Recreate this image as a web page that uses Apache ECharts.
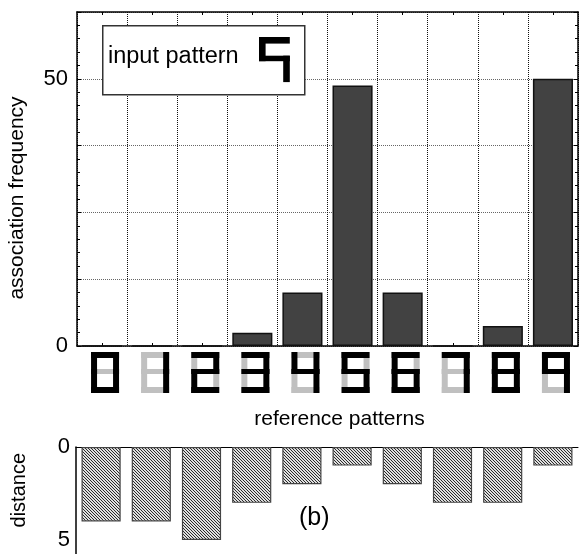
<!DOCTYPE html>
<html>
<head>
<meta charset="utf-8">
<script src="https://cdn.jsdelivr.net/npm/echarts@6/dist/echarts.min.js"></script>
<style>
  html, body { margin: 0; padding: 0; background: #fff; }
  #chart { width: 584px; height: 554px; }
</style>
</head>
<body>
<div id="chart"></div>
<script>
// data
const categories = ['0', '1', '2', '3', '4', '5', '6', '7', '8', '9'];
const frequency = [0, 0, 0, 2.5, 10, 48.75, 10, 0, 3.75, 50];
const distance = [4, 4, 5, 3, 2, 1, 2, 3, 3, 1];
const freqLabels = [0, 50];
const distLabels = [0, 5];

// segment glyphs for the reference patterns (T top, a up-left, b up-right, M middle, c low-left, d low-right, B bottom)
const glyphBlack = ['TabcdB', 'bd', 'TbMcB', 'TbMdB', 'abMd', 'TaMdB', 'TaMcdB', 'Tbd', 'TabMcdB', 'TabMd'];
const glyphGray = ['M', 'TaMcB', 'ad', 'ac', 'TcB', 'bc', 'b', 'aMcB', '', 'cB'];
const inputGlyph = 'TaMd';

const FONT = '"Liberation Sans", Arial, Helvetica, sans-serif';

const SEG = {
  T: [0, 0, 28, 6], a: [0, 0, 6, 22], b: [22, 0, 6, 22], M: [0, 17, 28, 5],
  c: [0, 17, 6, 24], d: [22, 17, 6, 24], B: [0, 35, 28, 6]
};
const segRects = (codes, x0, y0, s, fill, z) => codes.split('').map((k) => {
  const r = SEG[k];
  return {
    type: 'rect', z: z || 0,
    shape: { x: x0 + r[0] * s, y: y0 + r[1] * s, width: r[2] * s, height: r[3] * s },
    style: { fill: fill }
  };
});

// hatch for the distance bars
const hatch = document.createElement('canvas');
hatch.width = 3;
hatch.height = 3;
const hctx = hatch.getContext('2d');
hctx.fillStyle = '#e0e0e0';
hctx.fillRect(0, 0, 3, 3);
hctx.fillStyle = '#2a2a2a';
for (let i = 0; i < 3; i++) hctx.fillRect(i, i, 1, 1);

const chart = echarts.init(document.getElementById('chart'), null, { renderer: 'canvas' });

const topY = {
  gridIndex: 0, type: 'value', min: 0, max: 62.5, interval: 12.5,
  axisLine: { show: true, lineStyle: { color: '#000', width: 1.5 } },
  axisTick: { show: true, inside: true, length: 4, lineStyle: { color: '#000' } },
  minorTick: { show: true, splitNumber: 5, length: 3, lineStyle: { color: '#000' } },
  splitLine: { show: true, lineStyle: { type: 'dotted', color: '#666', width: 1 } }
};
const topX = {
  gridIndex: 0, type: 'category', data: categories, boundaryGap: true,
  axisLine: { show: true, onZero: false, lineStyle: { color: '#000', width: 1.5 } },
  axisTick: { show: true, inside: true, alignWithLabel: true, length: 3, lineStyle: { color: '#000' } },
  axisLabel: { show: false },
  splitLine: { show: true, lineStyle: { type: 'dotted', color: '#111', width: 1 } }
};

chart.setOption({
  animation: false,
  grid: [
    { left: 77, right: 6, top: 12, height: 334, outerBoundsMode: 'none' },
    { left: 76, right: 6, top: 447, height: 107, outerBoundsMode: 'none' }
  ],
  xAxis: [
    Object.assign({}, topX, {
      position: 'bottom',
      name: 'reference patterns', nameLocation: 'middle', nameGap: 63,
      nameTextStyle: { fontFamily: FONT, fontSize: 21, color: '#000', padding: [0, 0, 0, 24] }
    }),
    Object.assign({}, topX, { position: 'top', splitLine: { show: false } }),
    {
      gridIndex: 1, type: 'category', data: categories, position: 'top',
      axisLine: { show: true, onZero: false, lineStyle: { color: '#000', width: 1 } },
      axisTick: { show: false }, axisLabel: { show: false }, splitLine: { show: false }
    }
  ],
  yAxis: [
    Object.assign({}, topY, {
      position: 'left',
      name: 'association frequency', nameLocation: 'middle', nameGap: 49,
      nameTextStyle: { fontFamily: FONT, fontSize: 21, color: '#000', padding: [0, 38, 0, 0] },
      axisLabel: {
        fontFamily: FONT, fontSize: 22, color: '#000', margin: 9,
        formatter: (v) => (freqLabels.includes(v) ? String(v) : '')
      }
    }),
    Object.assign({}, topY, { position: 'right', axisLabel: { show: false }, splitLine: { show: false } }),
    {
      gridIndex: 1, type: 'value', inverse: true, min: 0, max: 5.75, interval: 5,
      axisLine: { show: true, lineStyle: { color: '#000', width: 1.5 } },
      axisTick: { show: false }, splitLine: { show: false },
      axisLabel: {
        fontFamily: FONT, fontSize: 22, color: '#000', margin: 6,
        formatter: (v) => (distLabels.includes(v) ? String(v) : '')
      }
    }
  ],
  series: [
    {
      type: 'bar', xAxisIndex: 0, yAxisIndex: 0, data: frequency, barWidth: '80%',
      itemStyle: { color: '#424242', borderColor: '#111', borderWidth: 1.5 }
    },
    {
      type: 'custom', xAxisIndex: 0, yAxisIndex: 0, clip: false,
      data: categories.map((c, i) => [i]),
      encode: { x: 0 },
      renderItem: (params, api) => {
        const i = api.value(0);
        const p = api.coord([i, 0]);
        const x0 = p[0] - 11;
        const y0 = p[1] + 6;
        return {
          type: 'group',
          children: segRects(glyphGray[i], x0, y0, 1, '#c0c0c0')
            .concat(segRects(glyphBlack[i], x0, y0, 1, '#000'))
        };
      }
    },
    {
      type: 'bar', xAxisIndex: 2, yAxisIndex: 2, data: distance, barWidth: '78%',
      itemStyle: { color: { image: hatch, repeat: 'repeat' }, borderColor: '#444', borderWidth: 1.2 }
    }
  ],
  graphic: [
    {
      type: 'rect', left: 102, top: 25, z: 10,
      shape: { width: 202, height: 69 },
      style: { fill: '#fff', stroke: '#333', lineWidth: 1.5 }
    },
    {
      type: 'text', left: 108, top: 45, z: 11,
      style: { text: 'input pattern', fontFamily: FONT, fontSize: 23.5, fill: '#000' }
    }
  ].concat(segRects(inputGlyph, 259, 37, 1.1, '#000', 12)).concat([
    {
      type: 'text', left: 9, top: 453, rotation: Math.PI / 2, z: 5,
      style: { text: 'distance', fontFamily: FONT, fontSize: 20, fill: '#000' }
    },
    {
      type: 'text', left: 299, top: 506, z: 5,
      style: { text: '(b)', fontFamily: FONT, fontSize: 25, fill: '#000' }
    }
  ])
});
</script>
</body>
</html>
